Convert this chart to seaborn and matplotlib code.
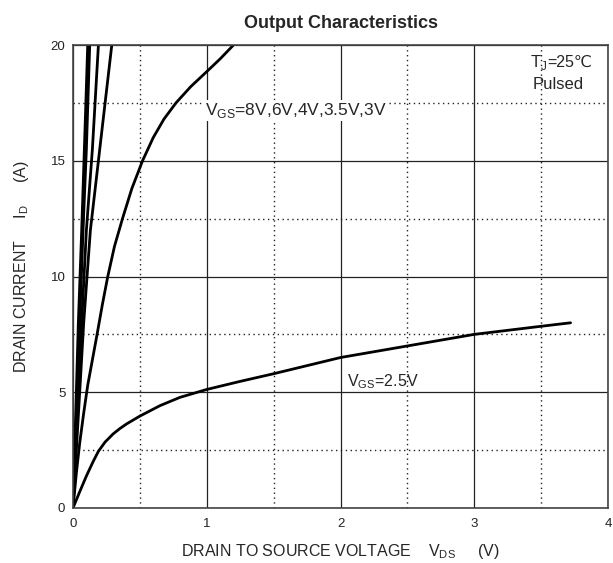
import matplotlib
matplotlib.use("Agg")
import matplotlib.pyplot as plt
import seaborn as sns
import pandas as pd
from matplotlib.ticker import MultipleLocator

# ---- data ----
vds_8v = [0, 0.02, 0.04, 0.065, 0.085, 0.11]
id_8v = [0, 4, 8, 12, 15.5, 20]
vds_6v = [0, 0.025, 0.05, 0.075, 0.10, 0.125]
id_6v = [0, 4, 8, 12, 15.5, 20]
vds_4v = [0, 0.03, 0.065, 0.10, 0.145, 0.19]
id_4v = [0, 4, 8, 12, 15.5, 20]
vds_35v = [0, 0.04, 0.08, 0.13, 0.20, 0.29]
id_35v = [0, 4, 8, 12, 15.5, 20]
vds_3v = [0, 0.025, 0.05, 0.08, 0.11, 0.145, 0.18, 0.22, 0.26, 0.31, 0.37, 0.44,
          0.52, 0.60, 0.68, 0.77, 0.88, 1.0, 1.1, 1.2]
id_3v = [0, 1.5, 2.8, 4.1, 5.3, 6.4, 7.5, 8.8, 10, 11.3, 12.5, 13.8,
         15, 16.0, 16.8, 17.5, 18.2, 18.85, 19.4, 20]
vds_25v = [0, 0.05, 0.10, 0.15, 0.19, 0.24, 0.30, 0.35, 0.40, 0.50, 0.65, 0.80,
           1.0, 1.25, 1.5, 1.75, 2.0, 2.5, 3.0, 3.5, 3.72]
id_25v = [0, 0.7, 1.38, 2.0, 2.45, 2.85, 3.2, 3.43, 3.63, 3.97, 4.42, 4.78,
          5.12, 5.47, 5.8, 6.15, 6.5, 7.0, 7.5, 7.85, 8.0]

x_ticks = [0, 1, 2, 3, 4]
y_ticks = [0, 5, 10, 15, 20]

curves = {"8V": (vds_8v, id_8v), "6V": (vds_6v, id_6v), "4V": (vds_4v, id_4v),
          "3.5V": (vds_35v, id_35v), "3V": (vds_3v, id_3v), "2.5V": (vds_25v, id_25v)}
frames = []
for name, (xs, ys) in curves.items():
    frames.append(pd.DataFrame({"Vds": xs, "Id": ys, "Vgs": name}))
df = pd.concat(frames, ignore_index=True)

sns.set_style("white")
plt.rcParams["font.family"] = ["Liberation Sans", "DejaVu Sans"]
plt.rcParams["mathtext.fontset"] = "custom"
plt.rcParams["mathtext.rm"] = "Liberation Sans"

fig = plt.figure(figsize=(6.13, 5.63), dpi=100)
ax = fig.add_axes([73 / 613, 55 / 563, 535 / 613, 463 / 563])

sns.lineplot(data=df, x="Vds", y="Id", hue="Vgs", estimator=None, sort=False,
             palette=["black"] * 6, linewidth=2.0, legend=False, ax=ax)

ax.set_xlim(0, 4)
ax.set_ylim(0, 20)
ax.set_xticks(x_ticks)
ax.set_yticks(y_ticks)
ax.xaxis.set_minor_locator(MultipleLocator(0.5))
ax.yaxis.set_minor_locator(MultipleLocator(2.5))
ax.grid(which="major", color="#222222", linestyle="-", linewidth=0.9)
ax.grid(which="minor", color="#222222", linestyle=(0, (1, 2.5)), linewidth=1.0)
ax.set_axisbelow(True)
ax.tick_params(which="both", length=0, labelsize=9.5, colors="#222222")
ax.tick_params(axis="x", pad=7.5)
ax.tick_params(axis="y", pad=5.5)
for s in ax.spines.values():
    s.set_color("#444444")
    s.set_linewidth(1.2)

ax.set_title("Output Characteristics", fontsize=13, fontweight="bold", pad=12)
ax.set_xlabel(r"DRAIN TO SOURCE VOLTAGE    V$_{\mathrm{DS}}$     (V)", fontsize=11.5,
              va="center")
ax.xaxis.set_label_coords(0.5, -0.093)
ax.set_ylabel(r"DRAIN CURRENT     I$_{\mathrm{D}}$     (A)", fontsize=11.5, va="center")
ax.yaxis.set_label_coords(-0.097, 0.52)

ax.text(0.987, 16.98, r"V$_{\mathrm{GS}}$=8V,6V,4V,3.5V,3V", fontsize=12.5, va="baseline",
        ha="left", bbox=dict(facecolor="white", edgecolor="none", pad=0.5))
ax.text(2.049, 5.24, r"V$_{\mathrm{GS}}$=2.5V", fontsize=11.5, va="baseline", ha="left")
ax.text(3.545, 19.05, r"T$_{\mathrm{J}}$", fontsize=12, va="baseline", ha="right")
ax.text(3.545, 19.05, "=25℃", fontsize=11.5, va="baseline", ha="left")
ax.text(3.626, 18.3, "Pulsed", fontsize=12, va="center", ha="center")

fig.savefig("out.png", dpi=100)
